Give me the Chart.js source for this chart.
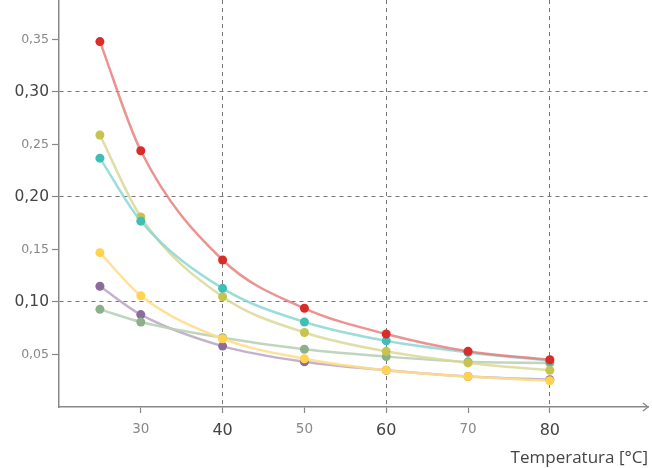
<!DOCTYPE html>
<html>
<head>
<meta charset="utf-8">
<script src="https://cdn.jsdelivr.net/npm/chart.js@4"></script>
<style>
  body { margin: 0; background: #fff; }
  #wrap { width: 652px; height: 468px; }
</style>
</head>
<body>
<div id="wrap"><canvas id="myChart" width="652" height="468"></canvas></div>
<script>
// data
const temps = [25, 30, 40, 50, 60, 70, 80];
const serieRed = [0.348, 0.244, 0.140, 0.094, 0.0695, 0.053, 0.045];
const serieTeal = [0.237, 0.177, 0.113, 0.081, 0.063, 0.052, 0.044];
const serieOlive = [0.259, 0.181, 0.105, 0.071, 0.053, 0.042, 0.035];
const serieYellow = [0.147, 0.106, 0.065, 0.046, 0.035, 0.029, 0.025];
const serieGreen = [0.093, 0.081, 0.066, 0.055, 0.048, 0.043, 0.042];
const seriePurple = [0.115, 0.088, 0.058, 0.043, 0.035, 0.029, 0.026];

const xTicks = [30, 40, 50, 60, 70, 80];
const xMajor = [40, 60, 80];
const yTicks = [0.05, 0.10, 0.15, 0.20, 0.25, 0.30, 0.35];
const yMajor = [0.10, 0.20, 0.30];

const isMajor = (list, c) => !!(c && c.tick) && list.some(m => Math.abs(m - c.tick.value) < 1e-6);

function serie(values, dot, line) {
  return {
    data: temps.map((t, i) => ({x: t, y: values[i]})),
    borderColor: line,
    backgroundColor: dot,
    pointBackgroundColor: dot,
    pointBorderWidth: 0,
    pointRadius: 4.5,
    borderWidth: 2.5,
    cubicInterpolationMode: 'monotone',
    fill: false
  };
}

// first dataset is drawn on top
const datasets = [
  serie(serieRed, '#d92b27', 'rgba(230,120,118,0.8)'),
  serie(serieTeal, '#3fbdb6', 'rgba(140,215,210,0.85)'),
  serie(serieOlive, '#c6c34f', 'rgba(218,215,150,0.85)'),
  serie(serieYellow, '#ffd34f', 'rgba(255,222,140,0.9)'),
  serie(serieGreen, '#8daf8b', 'rgba(185,208,183,0.9)'),
  serie(seriePurple, '#8c6b9d', 'rgba(190,170,200,0.9)')
];

const tickFamily = '"DejaVu Sans", sans-serif';
const titleFamily = '"Open Sans", sans-serif';

const arrowPlugin = {
  id: 'arrow',
  afterDraw(chart) {
    const c = chart.ctx;
    const a = chart.chartArea;
    c.save();
    c.strokeStyle = '#888';
    c.lineWidth = 1.3;
    c.beginPath();
    c.moveTo(a.right - 5, a.bottom - 4);
    c.lineTo(a.right, a.bottom);
    c.lineTo(a.right - 5, a.bottom + 4);
    c.stroke();
    c.restore();
  }
};

let ctx = document.getElementById('myChart').getContext('2d');
let myChart = new Chart(ctx, {
  type: 'line',
  data: { datasets: datasets },
  options: {
    responsive: false,
    animation: false,
    layout: { autoPadding: false, padding: { top: 0, right: 4, left: 0, bottom: 0 } },
    plugins: { legend: { display: false }, tooltip: { enabled: false } },
    scales: {
      x: {
        type: 'linear',
        min: 20,
        max: 92,
        afterFit(scale) { scale.height = 61; },
        afterBuildTicks(scale) { scale.ticks = xTicks.map(v => ({value: v})); },
        border: { color: '#888', width: 1.5, dash: [4, 4] },
        grid: {
          color: c => isMajor(xMajor, c) ? '#777' : 'rgba(0,0,0,0)',
          tickColor: '#888',
          tickLength: 6,
          tickWidth: 1.2
        },
        ticks: {
          padding: 8,
          maxRotation: 0,
          autoSkip: false,
          color: c => isMajor(xMajor, c) ? '#444' : '#888',
          font: c => isMajor(xMajor, c)
            ? { family: tickFamily, size: 16 }
            : { family: tickFamily, size: 13.5 },
          callback: v => String(v)
        },
        title: {
          display: true,
          text: 'Temperatura [°C]',
          align: 'end',
          color: '#444',
          font: { family: titleFamily, size: 17 },
          padding: { top: 0, bottom: 0 }
        }
      },
      y: {
        type: 'linear',
        min: 0,
        max: 0.3876,
        afterFit(scale) {
          scale.width = 59;
          scale.paddingTop = 0;
          scale.paddingBottom = 0;
        },
        afterBuildTicks(scale) { scale.ticks = yTicks.map(v => ({value: v})); },
        border: { color: '#888', width: 1.5, dash: [4, 4] },
        grid: {
          color: c => isMajor(yMajor, c) ? '#777' : 'rgba(0,0,0,0)',
          tickColor: '#888',
          tickLength: 7,
          tickWidth: 1.2
        },
        ticks: {
          padding: 3,
          autoSkip: false,
          color: c => isMajor(yMajor, c) ? '#444' : '#888',
          font: c => isMajor(yMajor, c)
            ? { family: tickFamily, size: 15.5 }
            : { family: tickFamily, size: 12.5 },
          callback: v => v.toFixed(2).replace('.', ',')
        }
      }
    }
  },
  plugins: [arrowPlugin]
});
</script>
</body>
</html>
